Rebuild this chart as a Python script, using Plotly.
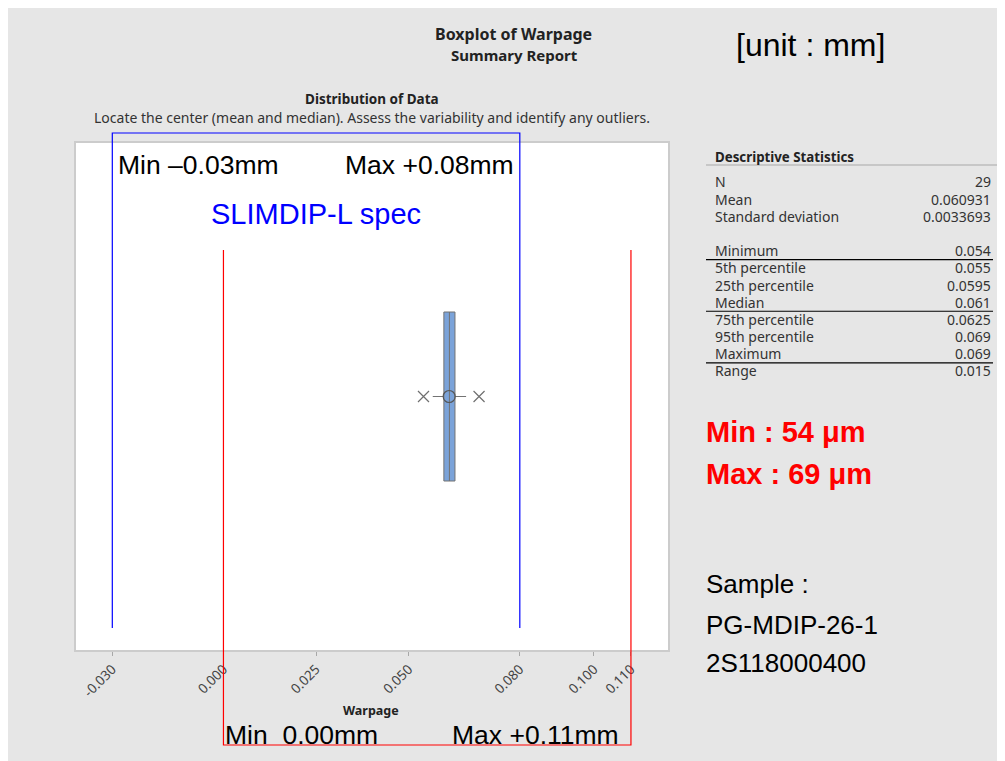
import plotly.graph_objects as go

# ---------------- data ----------------
q1 = [0.0595]
median = [0.061]
q3 = [0.0625]
lower_whisker = [0.0565]
upper_whisker = [0.0655]
mean = [0.060931]
outliers = [0.054, 0.069]

tick_vals = [-0.030, 0.000, 0.025, 0.050, 0.080, 0.100, 0.110]
tick_text = ["-0.030", "0.000", "0.025", "0.050", "0.080", "0.100", "0.110"]

spec_blue = [-0.03, 0.08]   # SLIMDIP-L spec
spec_red = [0.00, 0.11]

stat_labels = ["N", "Mean", "Standard deviation", "", "Minimum", "5th percentile",
               "25th percentile", "Median", "75th percentile", "95th percentile",
               "Maximum", "Range"]
stat_values = ["29", "0.060931", "0.0033693", "", "0.054", "0.055", "0.0595",
               "0.061", "0.0625", "0.069", "0.069", "0.015"]
rule_after = ["Minimum", "Median", "Maximum"]

# ---------------- layout geometry (reference pixel coords) ----------------
OFF = 8                      # page body margin of the html page
W, H = 1005 - OFF, 761 - OFF
L, R, T, B = 76, 668, 143, 650
XR = [-0.0398, 0.1200]
YR = [-1.5, 1.5]


def PX(px):
    return (px - L) / (R - L)


def PY(py):
    return (B - py) / (B - T)


def XD(v):
    return (v - XR[0]) / (XR[1] - XR[0])


MINI = "Noto Sans"
ARIAL = "Liberation Sans, Arial"

fig = go.Figure()

fig.add_trace(go.Box(
    y=[0], q1=q1, median=median, q3=q3,
    lowerfence=lower_whisker, upperfence=upper_whisker,
    orientation="h", width=1.0, whiskerwidth=0,
    fillcolor="#7ba3d9", line=dict(color="#737373", width=1),
    boxpoints=False, hoverinfo="skip", showlegend=False,
))
fig.add_trace(go.Scatter(
    x=outliers, y=[0] * len(outliers), mode="markers",
    marker=dict(symbol="x-thin-open", size=11, color="#6f6f6f",
                line=dict(color="#6f6f6f", width=1.2)),
    showlegend=False, hoverinfo="skip",
))
fig.add_trace(go.Scatter(
    x=mean, y=[0], mode="markers",
    marker=dict(symbol="circle-open", size=12, color="#555555", line=dict(width=1.2)),
    showlegend=False, hoverinfo="skip",
))

shapes = []


def bracket(xs, ytop, ybot, color):
    a, b = XD(xs[0]), XD(xs[1])
    return dict(type="path", xref="paper", yref="paper",
                path=f"M {a},{PY(ybot)} L {a},{PY(ytop)} L {b},{PY(ytop)} L {b},{PY(ybot)}",
                line=dict(color=color, width=1.2), layer="above")


shapes.append(bracket(spec_blue, 133, 628, "#0000ff"))
shapes.append(bracket(spec_red, 745, 250, "#ff0000"))

annotations = []


def txt(s, x, y, size, color="black", family=MINI, bold=False, xanchor="left"):
    if bold:
        s = f"<b>{s}</b>"
    annotations.append(dict(text=s, x=PX(x), y=PY(y), xref="paper", yref="paper",
                            xanchor=xanchor, yanchor="middle", showarrow=False,
                            font=dict(size=size, color=color, family=family)))


txt("Boxplot of Warpage", 513, 34, 16, "#222222", bold=True, xanchor="center")
txt("Summary Report", 514, 55.5, 15, "#222222", bold=True, xanchor="center")
txt("[unit : mm]", 810, 45, 32, "black", ARIAL, xanchor="center")
txt("Distribution of Data", 372, 99.5, 13.5, "#222222", bold=True, xanchor="center")
txt("Locate the center (mean and median). Assess the variability and identify any outliers.",
    372, 118, 14, "#333333", xanchor="center")
txt("Warpage", 371, 710, 12.5, "#222222", bold=True, xanchor="center")

txt("Min \u20130.03mm", 116, 165, 26.5, "black", ARIAL)
txt("Max +0.08mm", 343, 165, 26.5, "black", ARIAL)
txt("SLIMDIP-L spec", 209, 214, 29, "#0000ff", ARIAL)
txt("Min\u00a0 0.00mm", 223, 735, 26.5, "black", ARIAL)
txt("Max +0.11mm", 450, 735, 26.5, "black", ARIAL)

# descriptive statistics panel
txt("Descriptive Statistics", 713, 157, 13.3, "#222222", bold=True)
shapes.append(dict(type="line", xref="paper", yref="paper", x0=PX(706), x1=PX(999), y0=PY(165), y1=PY(165),
                   line=dict(color="#bdbdbd", width=1.5)))
for k, (lab, val) in enumerate(zip(stat_labels, stat_values)):
    yy = 182 + 17.18 * k
    if lab:
        txt(lab, 713, yy, 14, "#333333")
        txt(val, 993, yy, 14, "#333333", xanchor="right")
    if lab in rule_after:
        yl = yy + 9
        shapes.append(dict(type="line", xref="paper", yref="paper", x0=PX(706), x1=PX(993),
                           y0=PY(yl), y1=PY(yl), line=dict(color="black", width=1.2)))

txt(f"Min : {round(float(stat_values[4]) * 1000)} \u03bcm", 704, 432, 29, "#ff0000", ARIAL, bold=True)
txt(f"Max : {round(float(stat_values[10]) * 1000)} \u03bcm", 704, 474, 29, "#ff0000", ARIAL, bold=True)
txt("Sample :", 704, 584, 26, "black", ARIAL)
txt("PG-MDIP-26-1", 704, 625, 26, "black", ARIAL)
txt("2S118000400", 704, 663, 26, "black", ARIAL)

fig.update_layout(
    width=W, height=H,
    margin=dict(l=L - OFF, r=W - (R - OFF), t=T - OFF, b=H - (B - OFF), pad=0),
    paper_bgcolor="#e6e6e6", plot_bgcolor="white",
    shapes=shapes, annotations=annotations,
    xaxis=dict(range=XR, tickvals=tick_vals, ticktext=tick_text, tickangle=-45,
               ticks="outside", ticklen=4, tickcolor="#a8a8a8", showgrid=False, zeroline=False,
               showline=True, mirror=True, linecolor="#cccccc", linewidth=2,
               tickfont=dict(family=MINI, size=13.5, color="#444444")),
    yaxis=dict(range=YR, showticklabels=False, ticks="", showgrid=False, zeroline=False,
               showline=True, mirror=True, linecolor="#cccccc", linewidth=2),
    showlegend=False,
)

fig.write_html("out.html")
